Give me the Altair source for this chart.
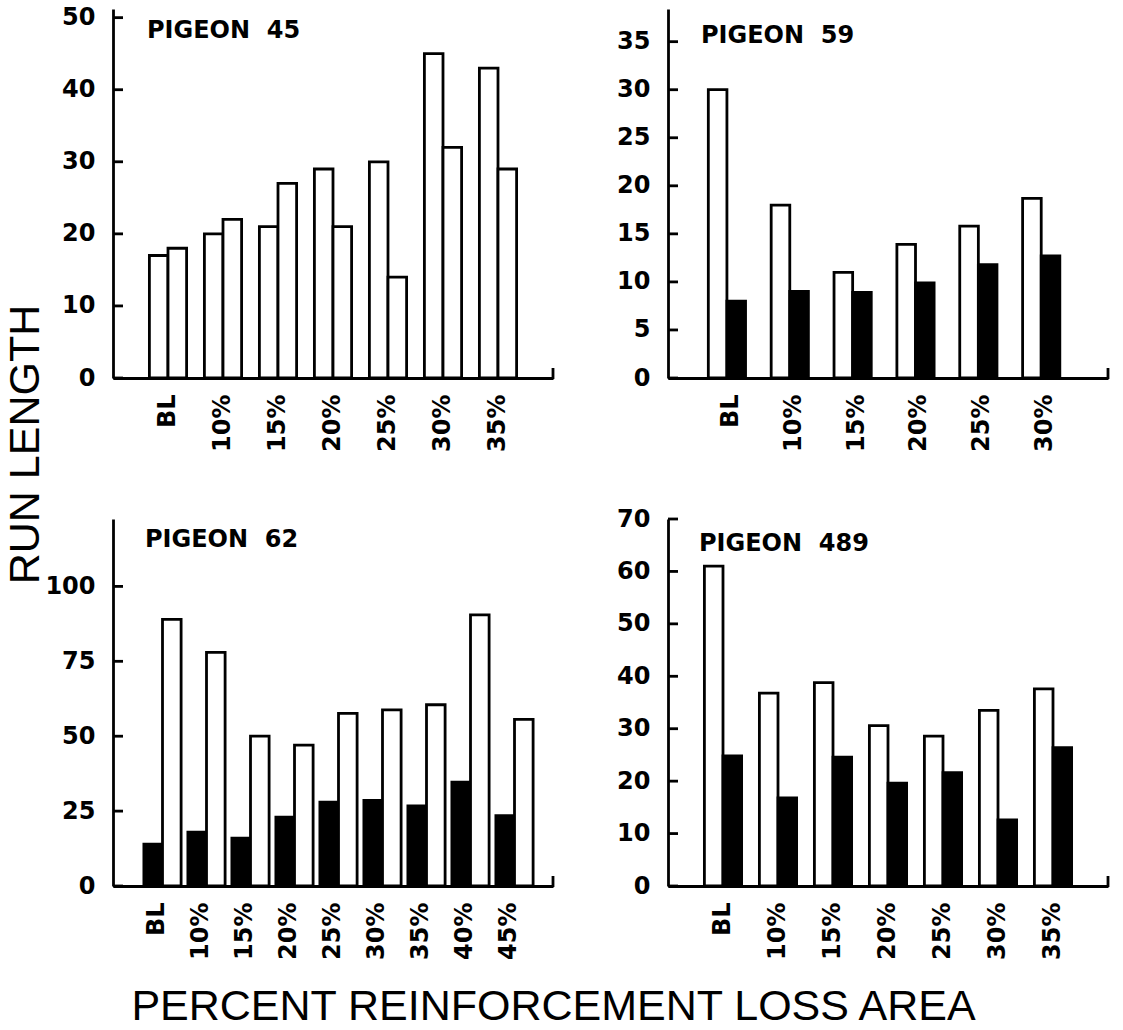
import altair as alt
import pandas as pd

# Run lengths per reinforcement-loss condition, one pair of bars per condition.
CATS_45 = ["BL", "10%", "15%", "20%", "25%", "30%", "35%"]
P45_FIRST = [17, 20, 21, 29, 30, 45, 43]
P45_SECOND = [18, 22, 27, 21, 14, 32, 29]
TICKS_45 = [0, 10, 20, 30, 40, 50]

CATS_59 = ["BL", "10%", "15%", "20%", "25%", "30%"]
P59_FIRST = [30, 18, 11, 13.9, 15.8, 18.7]
P59_SECOND = [8, 9, 8.9, 9.9, 11.8, 12.7]
TICKS_59 = [0, 5, 10, 15, 20, 25, 30, 35]

CATS_62 = ["BL", "10%", "15%", "20%", "25%", "30%", "35%", "40%", "45%"]
P62_FIRST = [14, 18, 16, 23, 28, 28.6, 26.7, 34.7, 23.5]
P62_SECOND = [89, 78, 50, 47, 57.6, 58.8, 60.5, 90.5, 55.6]
TICKS_62 = [0, 25, 50, 75, 100]

CATS_489 = ["BL", "10%", "15%", "20%", "25%", "30%", "35%"]
P489_FIRST = [61, 36.8, 38.8, 30.6, 28.6, 33.5, 37.6]
P489_SECOND = [24.8, 16.8, 24.6, 19.6, 21.6, 12.6, 26.4]
TICKS_489 = [0, 10, 20, 30, 40, 50, 60, 70]

W, H_TOP, H_BOT = 440, 369, 367
LABEL_FONT = "DejaVu Sans"
TITLE_FONT = "Liberation Sans"
LINE_W = 2.8
GAP = "\u00a0\u00a0"


def panel(name, cats, first, second, fills, ymax, yticks, off_pad, h,
          title_pos, x_title=None, y_title=None):
    rows = []
    for c, a, b in zip(cats, first, second):
        rows.append({"cond": c, "bar": "first", "run": a})
        rows.append({"cond": c, "bar": "second", "run": b})
    df = pd.DataFrame(rows)

    x_axis_kw = dict(labelAngle=270, labelPadding=16, ticks=False, tickSize=0,
                     labelOverlap=False, domainWidth=LINE_W, domainColor="black")
    y_axis_kw = dict(values=yticks, ticks=False, tickSize=0, labelPadding=18,
                     labelFlush=False, labelOverlap=False, domainWidth=LINE_W,
                     domainColor="black")
    if x_title:
        x_axis_kw.update(title=x_title, titleX=440, titleY=120,
                         titleAlign="center", titleBaseline="middle")
    else:
        x_axis_kw.update(title=None)
    if y_title:
        y_axis_kw.update(title=y_title, titleX=-88, titleY=-75, titleAngle=270,
                         titleAlign="center", titleBaseline="middle")
    else:
        y_axis_kw.update(title=None)
    y_axis = alt.Axis(**y_axis_kw)

    bars = alt.Chart(df).mark_bar(stroke="black", strokeWidth=LINE_W).encode(
        x=alt.X("cond:N", sort=cats,
                scale=alt.Scale(paddingInner=0, paddingOuter=0.5),
                axis=alt.Axis(**x_axis_kw)),
        xOffset=alt.XOffset("bar:N", sort=["first", "second"],
                            scale=alt.Scale(paddingInner=0, paddingOuter=off_pad)),
        y=alt.Y("run:Q", scale=alt.Scale(domain=[0, ymax], nice=False, zero=True),
                axis=y_axis),
        fill=alt.Fill("bar:N", scale=alt.Scale(domain=["first", "second"], range=fills),
                      legend=None),
    )

    # inward-pointing tick marks on the value axis
    tick_df = pd.DataFrame({"run": yticks})
    ticks = alt.Chart(tick_df).mark_rule(color="black", strokeWidth=LINE_W).encode(
        y=alt.Y("run:Q", axis=y_axis),
        x=alt.value(0),
        x2=alt.value(10),
    )

    # small upturned end of the category axis
    end = alt.Chart(pd.DataFrame({"k": [0]})).mark_rule(color="black", strokeWidth=LINE_W).encode(
        x=alt.value(W), y=alt.value(h + 1), y2=alt.value(h - 10)
    )

    label = alt.Chart(pd.DataFrame({"t": [name]})).mark_text(
        align="left", baseline="middle", font=LABEL_FONT, fontWeight="bold",
        fontSize=24, color="black"
    ).encode(text="t:N", x=alt.value(title_pos[0]), y=alt.value(title_pos[1]))

    return alt.layer(bars, ticks, end, label).properties(width=W, height=h)


p45 = panel("PIGEON" + GAP + "45", CATS_45, P45_FIRST, P45_SECOND, ["white", "white"],
            51.2, TICKS_45, 0.478, H_TOP, (34, 22))
p59 = panel("PIGEON" + GAP + "59", CATS_59, P59_FIRST, P59_SECOND, ["white", "black"],
            38.4, TICKS_59, 0.5, H_TOP, (33, 27))
p62 = panel("PIGEON" + GAP + "62", CATS_62, P62_FIRST, P62_SECOND, ["black", "white"],
            122.5, TICKS_62, 0.43, H_BOT, (32, 21),
            x_title="PERCENT REINFORCEMENT LOSS AREA", y_title="RUN LENGTH")
p489 = panel("PIGEON" + GAP + "489", CATS_489, P489_FIRST, P489_SECOND, ["white", "black"],
             70, TICKS_489, 0.476, H_BOT, (31, 25))

chart = alt.concat(
    p45, p59, p62, p489, columns=2, spacing={"row": 141, "column": 115},
    bounds="flush",
).resolve_scale(
    fill="independent"
).properties(
    padding={"left": 3, "top": 5, "right": 5, "bottom": 5},
    background="white",
).configure_view(
    stroke=None
).configure_axis(
    grid=False,
    labelFont=LABEL_FONT,
    labelFontWeight="bold",
    labelFontSize=24,
    labelColor="black",
    titleFont=TITLE_FONT,
    titleFontWeight="normal",
    titleFontSize=43,
    titleColor="black",
)

chart.save("out.html", embed_options={"renderer": "svg", "actions": False})
